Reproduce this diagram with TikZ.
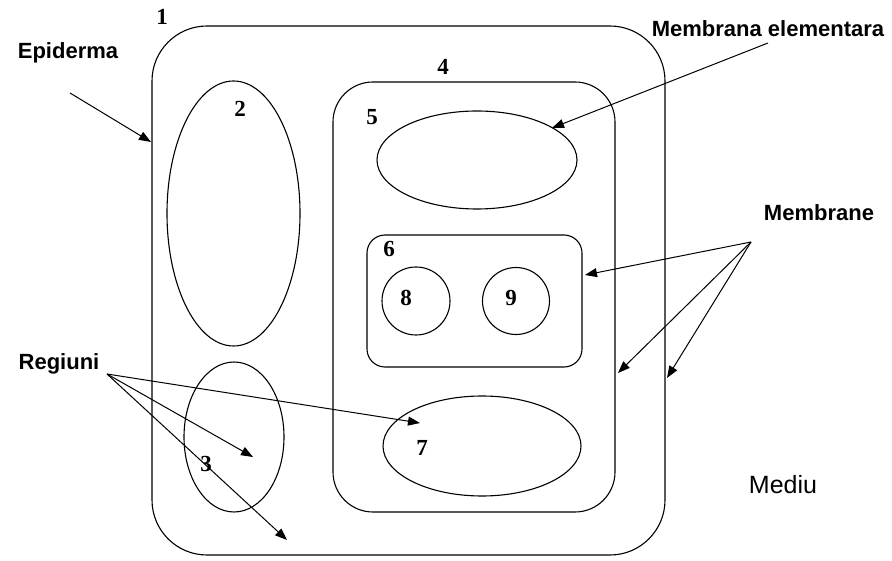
\documentclass[tikz,border=0pt]{standalone}
\usepackage{fontspec}
\setmainfont{Liberation Serif}
\setsansfont{Liberation Sans}
\usetikzlibrary{positioning, arrows.meta, shapes.geometric}

\begin{document}
\begin{tikzpicture}[x=1pt, y=-1pt, line width=1.1pt,
        region/.style={draw, rectangle, rounded corners=#1, inner sep=0pt},
        region/.default=20pt,
        blob/.style={draw, ellipse, inner sep=0pt},
        num/.style={font=\fontsize{23}{26}\selectfont\bfseries},
        lbl/.style={anchor=base, inner sep=0pt, font=\fontsize{22}{26}\selectfont\sffamily\bfseries},
        pointer/.style={-{Triangle[length=12pt, width=9pt]}, line width=1pt}]
      \useasboundingbox (0,0) rectangle (892,561);

      % Compartments
      \node[region=55pt, minimum width=513pt, minimum height=529pt] (cell) at (408.5,290.5) {};
      \node[region=40pt, minimum width=282pt, minimum height=430pt] (inner) at (474,297) {};
      \node[region=18pt, minimum width=215pt, minimum height=132pt] (pair) at (474.5,301) {};
      \node[blob, minimum width=133pt, minimum height=265pt] (vac2) at (233.5,213.5) {};
      \node[blob, minimum width=100pt, minimum height=150pt] (vac3) at (234,437) {};
      \node[blob, minimum width=200pt, minimum height=98pt] (vac5) at (477,160) {};
      \node[blob, minimum width=198pt, minimum height=100pt] (vac7) at (482,446) {};
      \node[blob, minimum width=68pt, minimum height=68pt] (vac8) at (416,301) {};
      \node[blob, minimum width=67pt, minimum height=67pt] (vac9) at (516,301) {};

      % Numbers
      \node[num] (n1) at (162,17) {1};
      \node[num] (n2) at (240,109) {2};
      \node[num] (n3) at (206,464) {3};
      \node[num] (n4) at (443,67) {4};
      \node[num] (n5) at (372,117) {5};
      \node[num] (n6) at (389,249) {6};
      \node[num] (n7) at (422,448) {7};
      \node[num] (n8) at (406,298) {8};
      \node[num] (n9) at (511,298) {9};

      % Labels
      \node[lbl] (epiderma) at (68,59) {Epiderma};
      \node[lbl] (elementara) at (768,37) {Membrana elementara};
      \node[lbl] (membrane) at (819,221) {Membrane};
      \node[lbl] (regiuni) at (59,370) {Regiuni};
      \node[anchor=base, inner sep=0pt, font=\fontsize{25}{29}\selectfont\sffamily] (mediu) at (783,493) {Mediu};

      % Pointer ends
      \coordinate (epi-o) at (70,93);
      \coordinate (epi-t) at (151,142);
      \coordinate (el-o) at (768,43);
      \coordinate (el-t) at (552,128);
      \coordinate (mem-o) at (751,242);
      \coordinate (mem-t1) at (585,275);
      \coordinate (mem-t2) at (618,373);
      \coordinate (mem-t3) at (667,378);
      \coordinate (reg-o) at (107,374);
      \coordinate (reg-t1) at (420,423);
      \coordinate (reg-t2) at (253,457);
      \coordinate (reg-t3) at (287,540);

      \draw[pointer] (epi-o) -- (epi-t);
      \draw[pointer] (el-o) -- (el-t);
      \foreach \t in {mem-t1, mem-t2, mem-t3}
        \draw[pointer] (mem-o) -- (\t);
      \foreach \t in {reg-t1, reg-t2, reg-t3}
        \draw[pointer] (reg-o) -- (\t);
    \end{tikzpicture}
\end{document}
